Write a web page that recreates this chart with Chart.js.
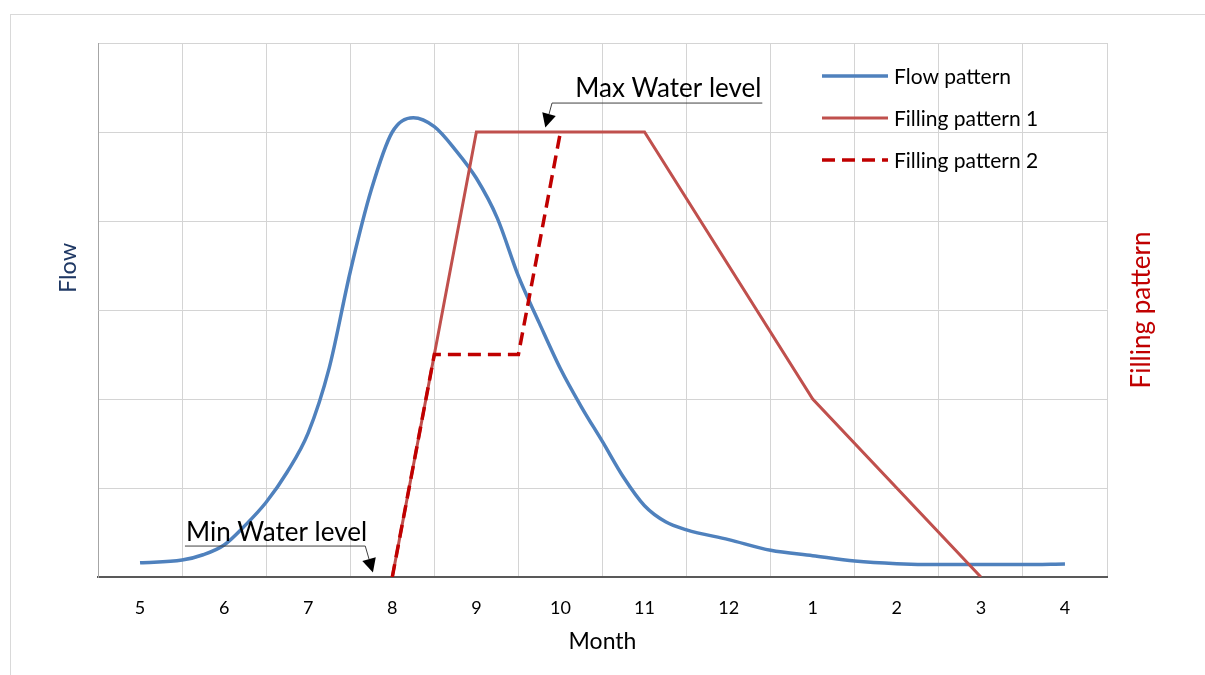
<!DOCTYPE html>
<html>
<head>
<meta charset="utf-8">
<script src="https://cdn.jsdelivr.net/npm/chart.js@4.4.1/dist/chart.umd.min.js"></script>
<style>
  html, body { margin: 0; padding: 0; background: #fff; overflow: hidden; }
  #wrap { width: 1205px; height: 675px; position: relative; }
</style>
</head>
<body>
<div id="wrap"><canvas id="chart" width="1205" height="675"></canvas></div>
<script>
// month positions on the x axis (5 = May ... 16 = April of next year)
const monthValues = [5, 6, 7, 8, 9, 10, 11, 12, 13, 14, 15, 16];
const monthLabels = ['5', '6', '7', '8', '9', '10', '11', '12', '1', '2', '3', '4'];

// Flow pattern
const flowX = [5, 5.5, 5.75, 6, 6.25, 6.5, 6.75, 7, 7.25, 7.5, 7.75, 8, 8.25, 8.5, 8.75, 9, 9.25, 9.5, 9.75, 10, 10.25, 10.5, 10.75, 11, 11.25, 11.5, 12, 12.5, 13, 13.5, 14, 14.5, 15, 15.5, 16];
const flowY = [0.16, 0.19, 0.25, 0.36, 0.58, 0.84, 1.18, 1.62, 2.35, 3.43, 4.35, 5.0, 5.16, 5.06, 4.8, 4.48, 4.03, 3.38, 2.85, 2.34, 1.91, 1.52, 1.12, 0.8, 0.62, 0.53, 0.42, 0.3, 0.24, 0.18, 0.15, 0.14, 0.14, 0.14, 0.146];

// Filling pattern 1
const fill1X = [8, 9, 11, 13, 15];
const fill1Y = [0, 5, 5, 2, 0];

// Filling pattern 2 (dashed)
const fill2X = [8, 8.5, 9.5, 10];
const fill2Y = [0, 2.5, 2.5, 5];

const yTicks = [0, 1, 2, 3, 4, 5, 6];

// annotation anchor points (x in months, y in flow units)
const maxLevelAt = [9.82, 5.05];
const minLevelAt = [7.77, 0.05];

const FONT = 'Lato';
const GRID = '#d4d4d4';

function toPoints(xs, ys) {
    return xs.map((x, i) => ({ x: x, y: ys[i] }));
}

function arrow(ctx, ex, ey, tx, ty) {
    const dx = tx - ex, dy = ty - ey;
    const len = Math.sqrt(dx * dx + dy * dy);
    const ux = dx / len, uy = dy / len;
    const head = 14, half = 7;
    const bx = tx - ux * head, by = ty - uy * head;
    ctx.beginPath();
    ctx.moveTo(ex, ey);
    ctx.lineTo(bx, by);
    ctx.stroke();
    ctx.beginPath();
    ctx.moveTo(tx, ty);
    ctx.lineTo(bx - uy * half, by + ux * half);
    ctx.lineTo(bx + uy * half, by - ux * half);
    ctx.closePath();
    ctx.fill();
}

const extrasPlugin = {
    id: 'extras',
    beforeDraw(chart) {
        const ctx = chart.ctx;
        ctx.save();
        ctx.strokeStyle = '#d9d9d9';
        ctx.lineWidth = 1;
        ctx.strokeRect(10.5, 14.5, 1400, 900);
        ctx.restore();
    },
    afterDraw(chart) {
        const ctx = chart.ctx;
        const area = chart.chartArea;
        const xs = chart.scales.x, ys = chart.scales.y;

        // axis titles
        ctx.save();
        ctx.textAlign = 'center';
        ctx.textBaseline = 'middle';
        ctx.font = '23.5px ' + FONT;
        ctx.fillStyle = '#1F3864';
        ctx.translate(68, 268);
        ctx.rotate(-Math.PI / 2);
        ctx.fillText('Flow', 0, 0);
        ctx.restore();

        ctx.save();
        ctx.textAlign = 'center';
        ctx.textBaseline = 'middle';
        ctx.font = '26px ' + FONT;
        ctx.fillStyle = '#C00000';
        ctx.translate(1142, (area.top + area.bottom) / 2);
        ctx.rotate(-Math.PI / 2);
        ctx.fillText('Filling pattern', 0, 0);
        ctx.restore();

        // water level callouts
        ctx.save();
        ctx.strokeStyle = '#404040';
        ctx.fillStyle = '#000';
        ctx.lineWidth = 1;
        ctx.font = '26px ' + FONT;
        ctx.textBaseline = 'alphabetic';
        ctx.textAlign = 'left';

        let tx = xs.getPixelForValue(maxLevelAt[0]);
        let ty = ys.getPixelForValue(maxLevelAt[1]);
        ctx.beginPath();
        ctx.moveTo(tx + 217, ty - 24.5);
        ctx.lineTo(tx + 6.7, ty - 24.5);
        ctx.stroke();
        arrow(ctx, tx + 6.7, ty - 24.5, tx, ty);
        ctx.fillText('Max Water level', tx + 30, ty - 31);

        tx = xs.getPixelForValue(minLevelAt[0]);
        ty = ys.getPixelForValue(minLevelAt[1]);
        ctx.beginPath();
        ctx.moveTo(tx - 188, ty - 26.5);
        ctx.lineTo(tx - 7.7, ty - 26.5);
        ctx.stroke();
        arrow(ctx, tx - 7.7, ty - 26.5, tx, ty);
        ctx.fillText('Min Water level', tx - 187, ty - 32);
        ctx.restore();

        // legend inside the plot
        ctx.save();
        ctx.font = '21px ' + FONT;
        ctx.textBaseline = 'middle';
        ctx.fillStyle = '#000';
        const lx0 = area.right - 285, lx1 = area.right - 219;
        chart.data.datasets.forEach((ds, i) => {
            const y = area.top + 33 + i * 42;
            ctx.beginPath();
            ctx.strokeStyle = ds.borderColor;
            ctx.lineWidth = ds.borderWidth;
            ctx.setLineDash(ds.borderDash || []);
            ctx.moveTo(lx0, y);
            ctx.lineTo(lx1, y);
            ctx.stroke();
            ctx.fillText(ds.label, area.right - 213, y + 1);
        });
        ctx.restore();
    }
};

new Chart(document.getElementById('chart'), {
    type: 'line',
    data: {
        datasets: [
            {
                label: 'Flow pattern',
                data: toPoints(flowX, flowY),
                borderColor: '#4F81BD',
                borderWidth: 3.5,
                pointRadius: 0,
                cubicInterpolationMode: 'monotone',
                order: 3
            },
            {
                label: 'Filling pattern 1',
                data: toPoints(fill1X, fill1Y),
                borderColor: '#C0504D',
                borderWidth: 3,
                pointRadius: 0,
                tension: 0,
                order: 2
            },
            {
                label: 'Filling pattern 2',
                data: toPoints(fill2X, fill2Y),
                borderColor: '#C00000',
                borderWidth: 3.5,
                borderDash: [13, 7],
                pointRadius: 0,
                tension: 0,
                order: 1
            }
        ]
    },
    options: {
        responsive: false,
        animation: false,
        devicePixelRatio: 1,
        layout: { padding: { top: 43, right: 98, left: 0, bottom: 0 } },
        plugins: {
            legend: { display: false },
            tooltip: { enabled: false }
        },
        scales: {
            x: {
                type: 'linear',
                min: monthValues[0] - 0.5,
                max: monthValues[monthValues.length - 1] + 0.5,
                afterBuildTicks(scale) {
                    const t = [];
                    monthValues.forEach(m => { t.push({ value: m - 0.5 }); t.push({ value: m }); });
                    t.push({ value: monthValues[monthValues.length - 1] + 0.5 });
                    scale.ticks = t;
                },
                afterFit(scale) { scale.height = 98; },
                ticks: {
                    autoSkip: false,
                    maxRotation: 0,
                    padding: 20,
                    color: '#000',
                    font: { family: FONT, size: 18 },
                    callback: (v) => Number.isInteger(v) ? monthLabels[monthValues.indexOf(v)] : ''
                },
                grid: {
                    drawTicks: false,
                    lineWidth: 1,
                    color: (c) => {
                        const v = c.tick ? c.tick.value : 0;
                        if (Number.isInteger(v) || v === monthValues[0] - 0.5) return 'rgba(0,0,0,0)';
                        return GRID;
                    }
                },
                border: { display: true, color: '#595959', width: 2 },
                title: {
                    display: true,
                    text: 'Month',
                    color: '#000',
                    font: { family: FONT, size: 23 },
                    padding: { top: 0, bottom: 20 }
                }
            },
            y: {
                min: 0,
                max: 6,
                afterBuildTicks(scale) { scale.ticks = yTicks.map(v => ({ value: v })); },
                afterFit(scale) { scale.width = 98; },
                ticks: { display: false },
                grid: {
                    drawTicks: false,
                    color: (c) => (c.tick && c.tick.value === 0) ? 'rgba(0,0,0,0)' : GRID
                },
                border: { display: true, color: '#a6a6a6', width: 1 }
            }
        }
    },
    plugins: [extrasPlugin]
});
</script>
</body>
</html>
